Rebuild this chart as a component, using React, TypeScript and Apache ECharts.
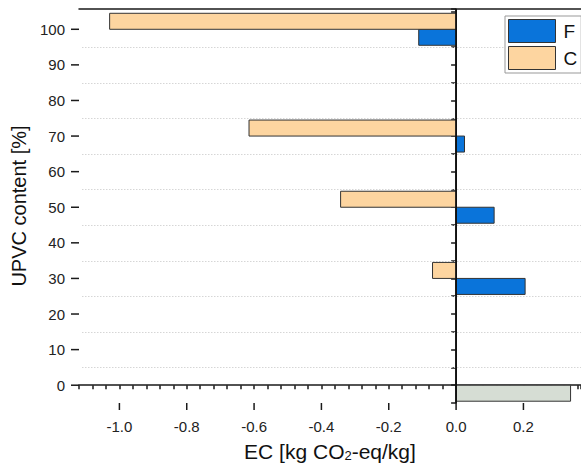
import React, { useEffect, useRef } from "react";
import * as echarts from "echarts";

// UPVC content levels (y) and EC values (x)
const upvcLevels = [100, 70, 50, 30];
const fValues = [-0.111, 0.025, 0.113, 0.205];
const cValues = [-1.029, -0.615, -0.343, -0.07];
const refLevels = [0];
const refValues = [0.34];

const xTickLabels = [-1.0, -0.8, -0.6, -0.4, -0.2, 0.0, 0.2];
const yTickLabels = [0, 10, 20, 30, 40, 50, 60, 70, 80, 90, 100];
const yGridLines = [5, 15, 25, 35, 45, 55, 65, 75, 85, 95];

const X_MIN = -1.12;
const X_MAX = 0.371;
const Y_MIN = -5;
const Y_MAX = 105.7;
const X_MINOR_STEP = 0.04;
const Y_MINOR_STEP = 5;

const FONT = "'Liberation Sans', Arial, sans-serif";
const AXIS_COLOR = "#1a1a1a";
const BAR_PX = 16;

function makeRender(fill: string, dir: number) {
  return (params: any, api: any) => {
    const y = api.value(0);
    const v = api.value(1);
    const p0 = api.coord([0, y]);
    const p1 = api.coord([v, y]);
    const x0 = Math.min(p0[0], p1[0]);
    const w = Math.abs(p1[0] - p0[0]);
    return {
      type: "rect",
      shape: { x: x0, y: dir < 0 ? p0[1] - BAR_PX : p0[1], width: w, height: BAR_PX },
      style: { fill, stroke: "#333", lineWidth: 1 },
    };
  };
}

function tickRender(horizontal: boolean, len: number) {
  return (params: any, api: any) => {
    const c = api.coord([api.value(0), api.value(1)]);
    const shape = horizontal
      ? { x1: c[0], y1: c[1], x2: c[0], y2: c[1] + len }
      : { x1: c[0], y1: c[1], x2: c[0] - len, y2: c[1] };
    return { type: "line", shape, style: { stroke: AXIS_COLOR, lineWidth: 1.5 } };
  };
}

function gridLineRender(params: any, api: any) {
  const v = api.value(1);
  const a = api.coord([X_MIN, v]);
  const b = api.coord([X_MAX, v]);
  return {
    type: "line",
    shape: { x1: a[0] + 3, y1: Math.round(a[1]) + 0.5, x2: b[0], y2: Math.round(b[1]) + 0.5 },
    style: { stroke: "#d6d6d6", lineWidth: 1, lineDash: [1.5, 1.5] },
  };
}

function zeroLineRender(params: any, api: any) {
  const a = api.coord([api.value(0), Y_MIN]);
  const b = api.coord([api.value(0), Y_MAX]);
  return {
    type: "line",
    shape: { x1: a[0], y1: a[1], x2: b[0], y2: b[1] },
    style: { stroke: "#111", lineWidth: 1.8 },
  };
}

export default function App() {
  const ref = useRef<HTMLDivElement>(null);
  useEffect(() => {
    if (!ref.current) return;
    const chart = echarts.init(ref.current, null, { renderer: "svg" });
    const blue = "#0a74da";
    const tan = "#fdd5a0";
    const gray = "#d6ddd4";
    chart.setOption({
      animation: false,
      textStyle: { fontFamily: FONT },
      grid: { left: 79, top: 9, right: 0, bottom: 65, containLabel: false, outerBoundsMode: "none" },
      legend: {
        data: [
          { name: "F", icon: "rect" },
          { name: "C", icon: "rect" },
        ],
        orient: "vertical",
        left: 505,
        top: 16,
        padding: [3, 4, 3, 3],
        itemWidth: 47,
        itemHeight: 23,
        itemGap: 3,
        backgroundColor: "#fff",
        borderColor: "#999",
        borderWidth: 1,
        borderRadius: 0,
        textStyle: { fontSize: 19, color: "#111", fontFamily: FONT, padding: [0, 0, 0, 3] },
        itemStyle: { borderColor: "#333", borderWidth: 1 },
      },
      xAxis: [
        {
          type: "value",
          min: X_MIN,
          max: X_MAX,
          interval: X_MINOR_STEP,
          position: "bottom",
          axisLine: { show: true, lineStyle: { color: AXIS_COLOR, width: 1.5 } },
          axisTick: { show: true, length: 4, lineStyle: { color: AXIS_COLOR, width: 1.5 } },
          splitLine: { show: false },
          axisLabel: {
            show: true,
            customValues: xTickLabels,
            formatter: (v: number) => v.toFixed(1),
            fontSize: 15,
            color: "#222",
            margin: 16,
            fontFamily: FONT,
          },
          name: "EC [kg CO{sub|2}-eq/kg]",
          nameLocation: "middle",
          nameGap: 37,
          nameTextStyle: {
            fontSize: 21,
            color: "#111",
            fontFamily: FONT,
            rich: { sub: { fontSize: 13, padding: [9, 0, 0, 0], fontFamily: FONT, color: "#111" } },
          },
        },
        {
          type: "value",
          min: X_MIN,
          max: X_MAX,
          position: "top",
          axisLine: { show: true, lineStyle: { color: AXIS_COLOR, width: 1.5 } },
          axisTick: { show: false },
          axisLabel: { show: false },
          splitLine: { show: false },
        },
      ],
      yAxis: [
        {
          type: "value",
          min: Y_MIN,
          max: Y_MAX,
          interval: Y_MINOR_STEP,
          position: "left",
          axisLine: { show: true, lineStyle: { color: AXIS_COLOR, width: 1.5 } },
          axisTick: { show: true, length: 5, lineStyle: { color: AXIS_COLOR, width: 1.5 } },
          axisLabel: { customValues: yTickLabels, fontSize: 15, color: "#222", margin: 14, fontFamily: FONT },
          splitLine: { show: false },
          name: "UPVC content [%]",
          nameLocation: "middle",
          nameGap: 47,
          nameTextStyle: { fontSize: 20, color: "#111", fontFamily: FONT },
        },
      ],
      series: [
        {
          name: "gridLines",
          type: "custom",
          silent: true,
          encode: { x: 0, y: 1 },
          renderItem: gridLineRender,
          data: yGridLines.map((v) => [X_MIN, v]),
          z: 1,
        },
        {
          name: "zeroLine",
          type: "custom",
          silent: true,
          encode: { x: 0, y: 1 },
          renderItem: zeroLineRender,
          data: [[0, Y_MIN]],
          z: 4,
        },
        {
          name: "F",
          type: "custom",
          encode: { x: 1, y: 0 },
          itemStyle: { color: blue, borderColor: "#333", borderWidth: 1 },
          renderItem: makeRender(blue, 1),
          data: upvcLevels.map((y, i) => [y, fValues[i]]),
          z: 3,
        },
        {
          name: "C",
          type: "custom",
          encode: { x: 1, y: 0 },
          itemStyle: { color: tan, borderColor: "#333", borderWidth: 1 },
          renderItem: makeRender(tan, -1),
          data: upvcLevels.map((y, i) => [y, cValues[i]]),
          z: 3,
        },
        {
          name: "Reference",
          type: "custom",
          encode: { x: 1, y: 0 },
          itemStyle: { color: gray, borderColor: "#333", borderWidth: 1 },
          renderItem: makeRender(gray, 1),
          data: refLevels.map((y, i) => [y, refValues[i]]),
          z: 3,
        },
        {
          name: "xMajorTicks",
          type: "custom",
          silent: true,
          clip: false,
          encode: { x: 0, y: 1 },
          renderItem: tickRender(true, 7),
          data: xTickLabels.map((v) => [v, Y_MIN]),
          z: 5,
        },
        {
          name: "yMajorTicks",
          type: "custom",
          silent: true,
          clip: false,
          encode: { x: 0, y: 1 },
          renderItem: tickRender(false, 8),
          data: yTickLabels.map((v) => [X_MIN, v]),
          z: 5,
        },
      ],
    });
    return () => chart.dispose();
  }, []);
  return (
    <div
      ref={ref}
      style={{ position: "fixed", left: 0, top: 0, width: 581, height: 468, background: "#fff" }}
    />
  );
}
